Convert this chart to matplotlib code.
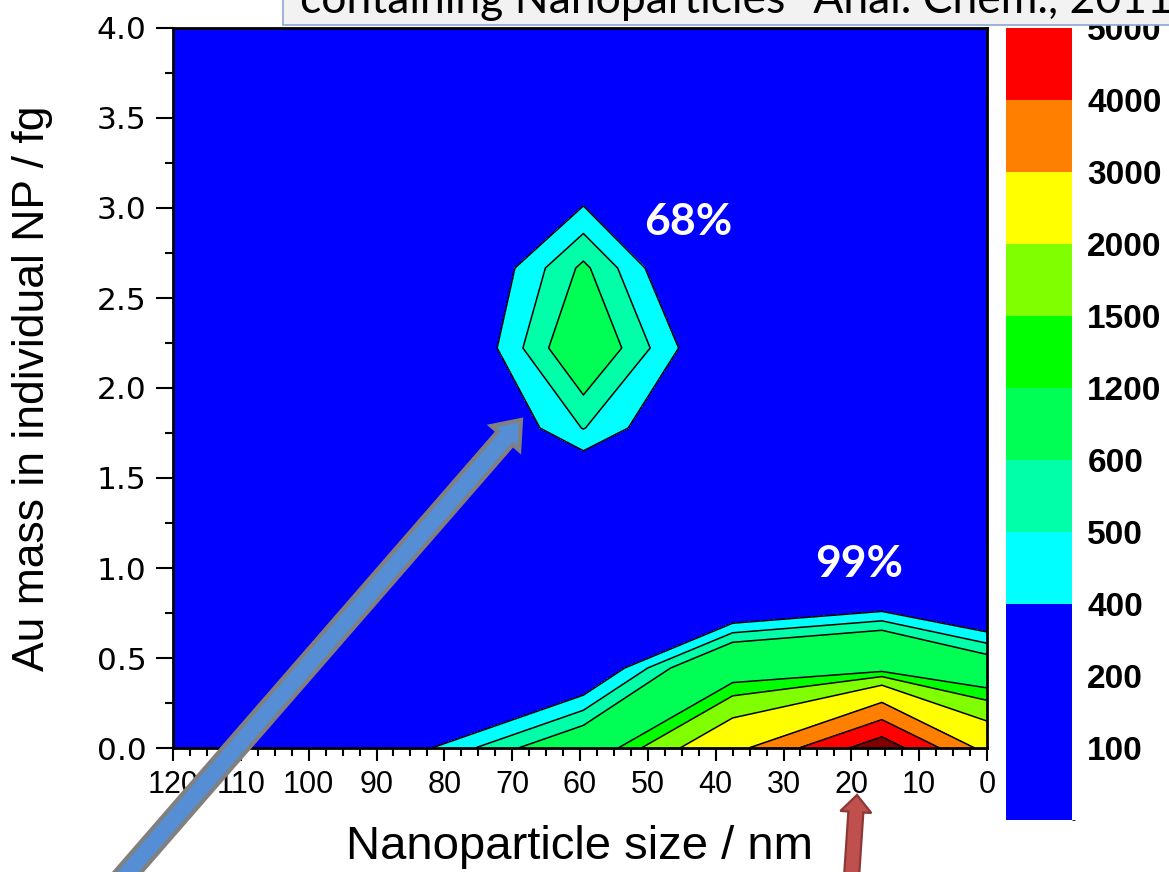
import numpy as np
import matplotlib
matplotlib.use("Agg")
import matplotlib.pyplot as plt
from matplotlib.colors import ListedColormap, BoundaryNorm
from matplotlib.colorbar import Colorbar
from matplotlib.patches import FancyArrow, Rectangle
from matplotlib.ticker import MultipleLocator, FormatStrFormatter

# ---- data: particle-event counts on a size / mass grid ----
size_nm = [0, 15.5, 37.5, 59.5, 82.5, 105, 120]
mass_fg = [0, 4 / 9, 8 / 9, 12 / 9, 16 / 9, 20 / 9, 24 / 9, 28 / 9, 32 / 9, 4.0]
counts = [
    [2650, 5650, 2680, 750, 390, 250, 150],
    [720, 1000, 870, 220, 100, 130, 110],
    [10, 152, 30, 150, 120, 100, 90],
    [120, 140, 160, 136, 130, 110, 100],
    [130, 150, 155, 505, 128, 120, 110],
    [140, 160, 210, 735, 129, 115, 105],
    [120, 130, 80, 625, 112, 100, 100],
    [110, 120, 150, 335, 140, 110, 100],
    [100, 110, 120, 150, 130, 100, 90],
    [90, 100, 110, 120, 110, 95, 85],
]

level_bounds = [0, 100, 200, 400, 500, 600, 1200, 1500, 2000, 3000, 4000, 5000, 10000]
band_colors = ["#0000FF", "#0000FF", "#0000FF", "#00FFFF", "#00FFA8", "#00FF55",
               "#00FF00", "#80FF00", "#FFFF00", "#FF8000", "#FF0000", "#800000"]
line_levels = [400, 500, 600, 1200, 1500, 2000, 3000, 4000, 5000]

bar_bounds = level_bounds[:-1]
bar_colors = band_colors[:-1]

peak_labels = [("68%", 44.1, 2.92), ("99%", 18.9, 1.02)]

W, H = 1169, 872
fig = plt.figure(figsize=(W / 100, H / 100), dpi=100)
fig.patch.set_facecolor("white")

ax = fig.add_axes([173 / W, 1 - 748 / H, (987 - 173) / W, (748 - 28) / H])
X, Y = np.meshgrid(size_nm, mass_fg)
Z = np.array(counts, dtype=float)
ax.contourf(X, Y, Z, levels=level_bounds, colors=band_colors)
ax.contour(X, Y, Z, levels=line_levels, colors="black", linewidths=1.1)

ax.set_xlim(120, 0)
ax.set_ylim(0, 4)
ax.xaxis.set_major_locator(MultipleLocator(10))
ax.xaxis.set_minor_locator(MultipleLocator(2.5))
ax.yaxis.set_major_locator(MultipleLocator(0.5))
ax.yaxis.set_minor_locator(MultipleLocator(0.25))
ax.yaxis.set_major_formatter(FormatStrFormatter("%.1f"))
ax.tick_params(axis="x", which="major", length=9.5, width=1.5, direction="out",
               pad=6, labelsize=22)
ax.tick_params(axis="x", which="minor", length=5.5, width=1.5, direction="out")
ax.tick_params(axis="y", which="major", length=12, width=1.5, direction="out",
               pad=7, labelsize=22.5)
ax.tick_params(axis="y", which="minor", length=6, width=1.5, direction="out")
for lab in ax.get_xticklabels():
    lab.set_fontfamily("Liberation Sans")
for lab in ax.get_yticklabels():
    lab.set_fontfamily("DejaVu Sans")
for sp in ax.spines.values():
    sp.set_linewidth(2.0)
    sp.set_color("black")

ax.set_xlabel("Nanoparticle size / nm", fontsize=34, family="Liberation Sans")
ax.xaxis.label.set_va("center")
ax.xaxis.set_label_coords(0.5, -0.1375)
ax.set_ylabel("Au mass in individual NP / fg", fontsize=32, family="Liberation Sans")
ax.yaxis.label.set_va("center")
ax.yaxis.set_label_coords(-0.173, 0.5)

for txt, xv, yv in peak_labels:
    ax.text(xv, yv, txt, color="white", fontsize=32, fontweight="bold",
            family="Lato", ha="center", va="center")

# ---- colour scale ----
cax = fig.add_axes([1006 / W, 1 - 820 / H, 66 / W, 792 / H])
cb = Colorbar(cax, cmap=ListedColormap(bar_colors),
              norm=BoundaryNorm(bar_bounds, len(bar_colors)),
              boundaries=bar_bounds, spacing="uniform", ticks=bar_bounds[1:])
cb.outline.set_visible(False)
cax.tick_params(length=0, pad=11, labelsize=24)
for lab in cax.get_yticklabels():
    lab.set_fontweight("bold")
    lab.set_fontfamily("Liberation Sans")

# ---- annotation arrows (figure pixel space) ----
ov = fig.add_axes([0, 0, 1, 1])
ov.set_xlim(0, W)
ov.set_ylim(H, 0)
ov.axis("off")
ov.set_zorder(5)

def block_arrow(x0, y0, x1, y1, width, head_w, head_l, face, edge, lw):
    ov.add_patch(FancyArrow(x0, y0, x1 - x0, y1 - y0, width=width,
                            head_width=head_w, head_length=head_l,
                            length_includes_head=True, facecolor=face,
                            edgecolor=edge, linewidth=lw, joinstyle="miter"))

block_arrow(121, 880, 521, 420, 20, 37, 24, "#558ED5", "#808080", 3.0)
block_arrow(851, 885, 857, 795, 15, 31, 17, "#C0504D", "#8C3836", 1.6)

# ---- caption box at the top edge ----
fig.patches.append(Rectangle((283 / W, 1 - 25 / H), 1.0, 0.2, transform=fig.transFigure,
                             facecolor="#F2F2F2", edgecolor="#8EA6CF", linewidth=1.2,
                             zorder=10))
fig.text(300 / W, 1 - 13 / H, 'containing Nanoparticles" Anal. Chem., 2011',
         fontsize=32, family="Lato", va="baseline", ha="left", zorder=11)

fig.savefig("out.png", dpi=100, facecolor="white")
